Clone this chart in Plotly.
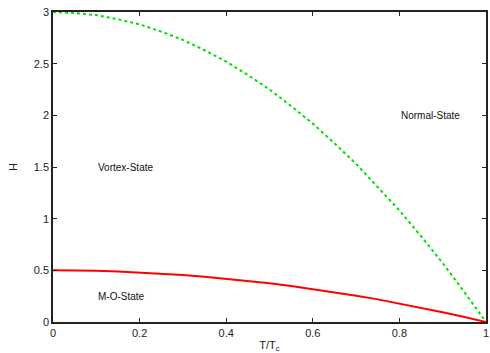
import plotly.graph_objects as go

t_values = [0.0, 0.05, 0.1, 0.15, 0.2, 0.25, 0.3, 0.35, 0.4, 0.45, 0.5,
            0.55, 0.6, 0.65, 0.7, 0.75, 0.8, 0.85, 0.9, 0.95, 1.0]
h_vortex = [3.0, 2.99, 2.97, 2.93, 2.88, 2.81, 2.73, 2.63, 2.52, 2.39, 2.25,
            2.09, 1.92, 1.73, 1.53, 1.31, 1.08, 0.83, 0.57, 0.29, 0.0]
h_mo = [0.5, 0.499, 0.495, 0.489, 0.48, 0.469, 0.455, 0.439, 0.42, 0.399, 0.375,
        0.349, 0.32, 0.289, 0.255, 0.219, 0.18, 0.139, 0.095, 0.049, 0.0]

x_ticks = [0, 0.2, 0.4, 0.6, 0.8, 1]
x_tick_labels = ["0", "0.2", "0.4", "0.6", "0.8", "1"]
y_ticks = [0, 0.5, 1, 1.5, 2, 2.5, 3]
y_tick_labels = ["0", "0.5", "1", "1.5", "2", "2.5", "3"]

labels = ["Vortex-State", "Normal-State", "M-O-State"]
label_x = [0.1, 0.8, 0.1]
label_y = [1.5, 2.0, 0.25]

FONT = "Liberation Sans, Arial"

fig = go.Figure()
fig.add_trace(go.Scatter(x=t_values, y=h_vortex, mode="lines",
                         line=dict(color="#00e000", width=2, dash="dot"),
                         cliponaxis=False, showlegend=False))
fig.add_trace(go.Scatter(x=t_values, y=h_mo, mode="lines",
                         line=dict(color="#ff0000", width=2),
                         cliponaxis=False, showlegend=False))

for txt, lx, ly in zip(labels, label_x, label_y):
    fig.add_annotation(x=lx, y=ly, text=txt, showarrow=False, xanchor="left",
                       yanchor="middle", font=dict(size=10, color="#111", family=FONT))

axis_common = dict(showgrid=False, zeroline=False, showline=True, linecolor="#222",
                   linewidth=1.5, mirror="ticks", ticks="inside", ticklen=4,
                   tickcolor="#222", tickwidth=1,
                   tickfont=dict(size=11, color="#222", family=FONT))

fig.update_xaxes(range=[0, 1], tickvals=x_ticks, ticktext=x_tick_labels,
                 title=dict(text="T/T<sub>c</sub>", standoff=3,
                            font=dict(size=11, color="#222", family=FONT)),
                 **axis_common)
fig.update_yaxes(range=[0, 3], tickvals=y_ticks, ticktext=y_tick_labels,
                 title=dict(text="H", standoff=14,
                            font=dict(size=11, color="#222", family=FONT)),
                 **axis_common)

fig.update_layout(width=490, height=353, margin=dict(l=53, r=2, t=12, b=31),
                  plot_bgcolor="white", paper_bgcolor="white",
                  font=dict(family=FONT, size=11, color="#222"))

fig.write_html("out.html", config={"displayModeBar": False},
               post_script="document.body.style.margin='0';document.body.style.padding='0';")
